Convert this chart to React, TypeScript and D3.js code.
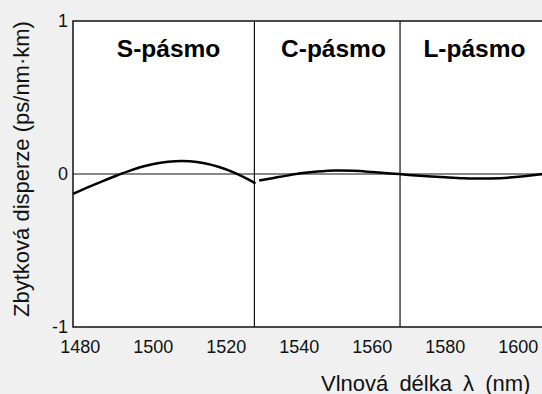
import React from 'react'
import * as d3 from 'd3'

// readings
const sBand: [number, number][] = [
  [1478, -0.13], [1482, -0.088], [1486, -0.048], [1490, -0.01],
  [1494, 0.025], [1498, 0.054], [1502, 0.074], [1506, 0.084],
  [1510, 0.083], [1514, 0.07], [1518, 0.046], [1522, 0.011],
  [1526, -0.035], [1528, -0.062]
]
const clBand: [number, number][] = [
  [1529, -0.043], [1533, -0.026], [1537, -0.009], [1541, 0.006],
  [1545, 0.016], [1550, 0.023], [1555, 0.021], [1560, 0.013],
  [1565, 0.004], [1570, -0.006], [1575, -0.014], [1580, -0.021],
  [1585, -0.027], [1590, -0.03], [1595, -0.027], [1600, -0.018],
  [1605, -0.005], [1610, 0.009], [1615, 0.02]
]
const bandEdges = [1527.7, 1567.6]
const bandNames = ['S-pásmo', 'C-pásmo', 'L-pásmo']
const bandLabelAt = [1490, 1535, 1574]
const xTicks = [1480, 1500, 1520, 1540, 1560, 1580, 1600]
const yTicks = [1, 0, -1]

const font = '"Liberation Sans", Arial, sans-serif'

export default function App() {
  const left = 73
  const top = 21
  const bottom = 327
  const x = d3.scaleLinear().domain([1478, 1630]).range([left, left + 152 * 3.65])
  const y = d3.scaleLinear().domain([-1, 1]).range([bottom, top])
  const line = d3
    .line<[number, number]>()
    .x(d => x(d[0]))
    .y(d => y(d[1]))
    .curve(d3.curveCatmullRom)

  return (
    <svg
      width={542}
      height={394}
      style={{position: 'absolute', left: 0, top: 0, fontFamily: font}}
    >
      <rect width={542} height={394} fill="#f0f0f0" />
      <rect x={left} y={top} width={600} height={bottom - top} fill="#fff" />
      {/* zero line */}
      <line x1={left} x2={600} y1={y(0)} y2={y(0)} stroke="#111" strokeWidth={1} />
      {bandEdges.map(b => (
        <line key={b} x1={x(b)} x2={x(b)} y1={top} y2={bottom} stroke="#111" strokeWidth={1.2} />
      ))}
      {/* frame */}
      <path
        d={`M600,${top}H${left}V${bottom}H600`}
        fill="none"
        stroke="#111"
        strokeWidth={1.5}
      />
      {[sBand, clBand].map((s, i) => (
        <path key={i} d={line(s) || ''} fill="none" stroke="#000" strokeWidth={2.5} />
      ))}
      {bandNames.map((n, i) => (
        <text key={n} x={x(bandLabelAt[i])} y={56.5} fontSize={24.5} fontWeight="bold" fill="#000">
          {n}
        </text>
      ))}
      {xTicks.map(t => (
        <text key={t} x={x(t)} y={bottom + 26} fontSize={18} textAnchor="middle" fill="#111">
          {t}
        </text>
      ))}
      {yTicks.map(t => (
        <text key={t} x={68} y={y(t)} dy="0.35em" fontSize={18} textAnchor="end" fill="#111">
          {t}
        </text>
      ))}
      <text
        transform="translate(29,169) rotate(-90)"
        fontSize={22}
        textAnchor="middle"
        fill="#111"
      >
        Zbytková disperze (ps/nm·km)
      </text>
      <text x={321} y={391} fontSize={22} wordSpacing={5} fill="#111">
        Vlnová délka λ (nm)
      </text>
    </svg>
  )
}
